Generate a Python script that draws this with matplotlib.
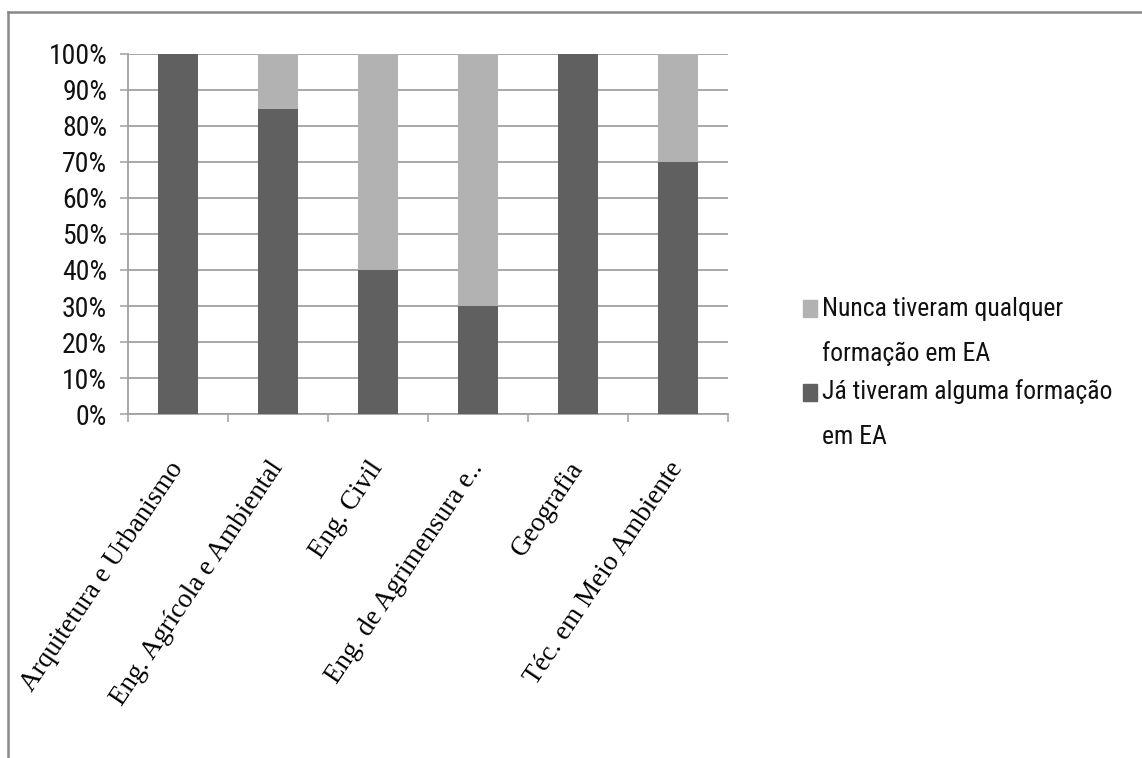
import matplotlib
matplotlib.use("Agg")
import matplotlib.pyplot as plt
from matplotlib.lines import Line2D
from matplotlib.patches import Rectangle
from matplotlib import font_manager
import numpy as np

categories = ["Arquitetura e Urbanismo", "Eng. Agrícola e Ambiental", "Eng. Civil",
              "Eng. de Agrimensura e..", "Geografia", "Téc. em Meio Ambiente"]
ja_tiveram = [100, 84.6, 40, 30, 100, 70]
nunca_tiveram = [0, 15.4, 60, 70, 0, 30]
series_labels = ["Já tiveram alguma formação\nem EA", "Nunca tiveram qualquer\nformação em EA"]
series_colors = ["#606060", "#b2b2b2"]
yticks = [0, 10, 20, 30, 40, 50, 60, 70, 80, 90, 100]
ytick_labels = [f"{v}%" for v in yticks]

available = {f.name for f in font_manager.fontManager.ttflist}
sans_pref = [n for n in ["Liberation Sans Narrow", "Roboto Condensed", "Open Sans Condensed",
                         "Noto Sans Condensed", "Roboto"] if n in available]
sans_family = sans_pref[:1] + ["DejaVu Sans"]
condensed = sans_family[0] != "Roboto"
tick_fs = 20 if condensed else 17.5
leg_fs = 18.5 if condensed else 17

W, H = 1142, 758
fig = plt.figure(figsize=(W / 100, H / 100), dpi=100)
fig.patch.set_facecolor("white")

ax = fig.add_axes([128 / W, 1 - 414 / H, 600 / W, 360 / H])
x = np.arange(len(categories))
ax.bar(x, ja_tiveram, width=0.4, color=series_colors[0], zorder=3)
ax.bar(x, nunca_tiveram, width=0.4, bottom=ja_tiveram, color=series_colors[1], zorder=3)

ax.set_xlim(-0.5, len(categories) - 0.5)
ax.set_ylim(0, 100)

gridc = "#a0a0a0"
ax.set_yticks(yticks)
ax.set_yticklabels(ytick_labels, family=sans_family, fontsize=tick_fs, color="#111111")
ax.yaxis.grid(True, color=gridc, linewidth=1.3, zorder=0)
ax.tick_params(axis="y", length=6, width=1.1, color=gridc, pad=9)

ax.set_xticks(np.arange(-0.5, len(categories), 1.0))
ax.set_xticklabels([])
ax.set_xticks(x, minor=True)
ax.set_xticklabels(categories, minor=True, family=["Liberation Serif", "DejaVu Serif"],
                   fontsize=19.5, rotation=56, ha="right", rotation_mode="anchor", va="center")
ax.tick_params(axis="x", which="major", length=6, width=1.1, color=gridc)
ax.tick_params(axis="x", which="minor", length=0, pad=36)

for s in ["top", "right"]:
    ax.spines[s].set_visible(False)
for s in ["left", "bottom"]:
    ax.spines[s].set_color(gridc)
    ax.spines[s].set_linewidth(1.3)

# legend (drawn manually, first line aligned with the marker)
leg_entries = [(series_labels[1], series_colors[1], 309), (series_labels[0], series_colors[0], 392)]
for label, color, yc in leg_entries:
    fig.patches.append(Rectangle((803 / W, 1 - (yc + 8.5) / H), 14 / W, 17 / H,
                                 transform=fig.transFigure, color=color))
    lines = label.split("\n")
    for i, ln in enumerate(lines):
        fig.text(822 / W, 1 - (yc + i * 45) / H, ln, family=sans_family,
                 fontsize=leg_fs, va="center", ha="left", color="#111111")

# border
fig.add_artist(Line2D([8 / W, 8 / W], [1 - 12 / H, 0], transform=fig.transFigure, color="#888888", linewidth=1.8))
fig.add_artist(Line2D([8 / W, 1], [1 - 12 / H, 1 - 12 / H], transform=fig.transFigure, color="#888888", linewidth=1.8))

fig.savefig("out.png", dpi=100)
